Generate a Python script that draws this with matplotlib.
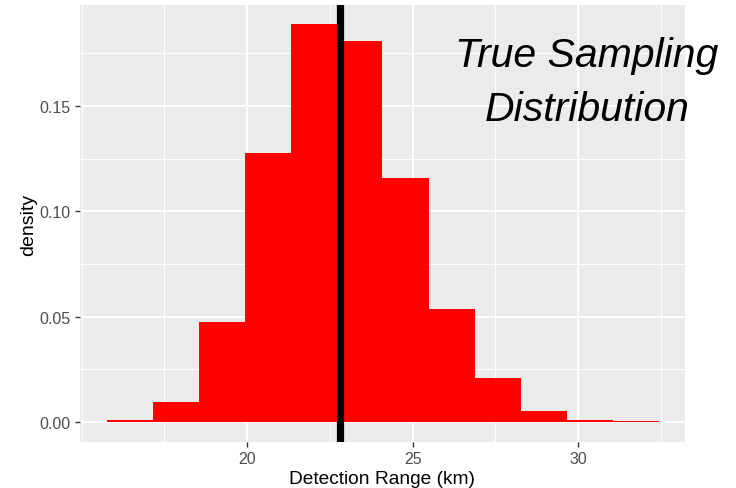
import matplotlib
matplotlib.use("Agg")
import matplotlib.pyplot as plt
from matplotlib.ticker import MultipleLocator

plt.rcParams['font.family'] = ['Liberation Sans', 'DejaVu Sans']

# Data
bin_edges = [15.76, 17.15, 18.54, 19.93, 21.32, 22.71, 24.09, 25.48,
             26.87, 28.26, 29.65, 31.04, 32.43]
densities = [0.0010, 0.0094, 0.0473, 0.1277, 0.1888, 0.1808, 0.1157,
             0.0537, 0.0207, 0.0054, 0.0011, 0.0003]
true_value = 22.8
x_ticks = [20, 25, 30]
y_ticks = [0.00, 0.05, 0.10, 0.15]
y_tick_labels = ["0.00", "0.05", "0.10", "0.15"]
title_lines = ["True Sampling", "Distribution"]

fig = plt.figure(figsize=(7.36, 4.89), dpi=100)
ax = fig.add_axes([0.1087, 0.0941, 0.822, 0.8936])

ax.set_facecolor('#EBEBEB')
for s in ax.spines.values():
    s.set_visible(False)

widths = [bin_edges[i + 1] - bin_edges[i] for i in range(len(densities))]
ax.bar(bin_edges[:-1], densities, width=widths, align='edge',
       color='#FF0000', linewidth=0, zorder=3)

ax.axvline(true_value, color='black', linewidth=5.2, zorder=4)

ax.set_xlim(14.95, 33.23)
ax.set_ylim(-0.0095, 0.198)

ax.set_xticks(x_ticks)
ax.set_yticks(y_ticks)
ax.set_yticklabels(y_tick_labels)
ax.xaxis.set_minor_locator(MultipleLocator(2.5))
ax.yaxis.set_minor_locator(MultipleLocator(0.025))

ax.grid(which='major', color='white', linewidth=1.4, zorder=1)
ax.grid(which='minor', color='white', linewidth=0.7, zorder=1)
ax.set_axisbelow(True)

ax.tick_params(which='major', length=3.5, width=1.0, color='#333333',
               labelcolor='#4D4D4D', labelsize=11.5, pad=3)
ax.tick_params(which='minor', length=0)

ax.set_xlabel("Detection Range (km)", fontsize=13.8, color='black', labelpad=3)
ax.set_ylabel("density", fontsize=14, color='black', labelpad=2)

fig.text(0.7976, 1 - 67 / 489, title_lines[0], fontsize=29.5,
         style='italic', ha='center', va='baseline', color='black')
fig.text(0.7976, 1 - 121 / 489, title_lines[1], fontsize=29.5,
         style='italic', ha='center', va='baseline', color='black')

fig.savefig("out.png", dpi=100)
